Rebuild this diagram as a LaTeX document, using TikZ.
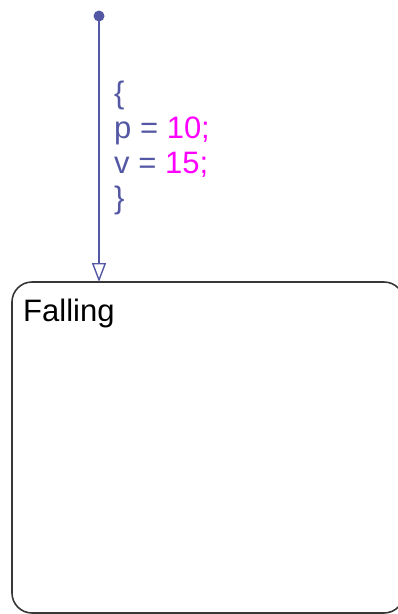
\documentclass[tikz,border=0pt]{standalone}
\usepackage{fontspec}
\setmainfont{Liberation Sans}
\usetikzlibrary{arrows.meta}
\definecolor{trans}{RGB}{84,88,164}
\definecolor{numc}{RGB}{255,0,255}
\definecolor{boxc}{RGB}{55,55,55}
\tikzset{
  statebox/.style={draw=boxc, line width=1.6pt, rounded corners=20pt},
  transline/.style={draw=trans, line width=1.6pt, -{Triangle[open,length=19pt,width=14pt,line width=1.4pt]}},
  lbl/.style={font=\fontsize{31pt}{35pt}\selectfont, text=trans, align=left, inner sep=0pt},
  statelbl/.style={font=\fontsize{31pt}{35pt}\selectfont, text=black, inner sep=0pt, anchor=base west}
}
\begin{document}
\begin{tikzpicture}[x=1pt,y=-1pt]
\useasboundingbox (0,0) rectangle (397,614);
\draw[statebox] (12,282) rectangle (404,613);
\node[statelbl] (falling) at (23,321) {Falling};
\fill[trans] (99,16) circle (5.5pt);
\coordinate (start) at (99,16);
\coordinate (entry) at (99,282);
\draw[transline] (start) -- (entry);
\node[lbl, anchor=north west] (act) at (114,81) {\{\\p = \textcolor{numc}{10;}\\v = \textcolor{numc}{15;}\\\}};
\end{tikzpicture}
\end{document}
